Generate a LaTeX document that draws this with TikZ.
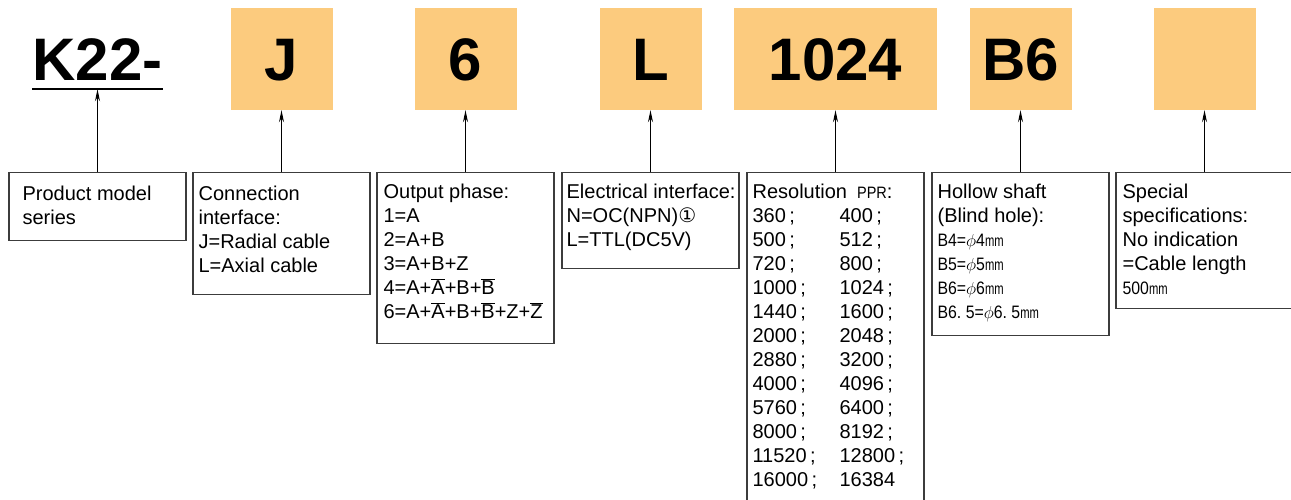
\documentclass[tikz,border=0pt]{standalone}
\usepackage{fontspec}
\setmainfont{Liberation Sans}
\newfontfamily\narrowfont{Liberation Sans}[FakeStretch=0.88]
\newfontfamily\mmfont{Liberation Sans}[FakeStretch=0.7]
\newfontfamily\symfont{DejaVu Sans}
\usetikzlibrary{arrows.meta,positioning}
\definecolor{codeorange}{RGB}{252,203,126}
\definecolor{boxgray}{RGB}{60,60,60}
\tikzset{>={Stealth[length=12pt,width=5pt]}}
\tikzset{
  codebox/.style={fill=codeorange,minimum width=102pt,minimum height=102pt,inner sep=0pt,
    text height=43pt,text depth=0pt,font=\fontsize{60}{60}\selectfont\bfseries},
  infobox/.style={draw=boxgray,line width=1.2pt,minimum width=177pt,anchor=north,inner sep=0pt},
  infotext/.style={anchor=north west,align=left,inner sep=0pt,font=\fontsize{20}{24}\selectfont},
  pointer/.style={->,line width=1pt}
}
\newcommand{\smallmm}{{\mmfont\fontsize{16}{24}\selectfont mm}}
\newcommand{\narrowtext}[1]{{\narrowfont\fontsize{16.5}{24}\selectfont #1}}
\newcommand{\shafttext}[1]{{\narrowfont\fontsize{18}{24}\selectfont #1}}
\newcommand{\ovl}[1]{$\overline{\mbox{#1}}$}
\newcommand{\pprrow}[2]{\makebox[87pt][l]{#1\,;}#2}

\begin{document}
\begin{tikzpicture}[x=1pt,y=-1pt]
  \useasboundingbox (0,0) rectangle (1291,499);

  % code line
  \node[anchor=base,inner xsep=0pt,inner ysep=9pt,text depth=0pt,
        font=\fontsize{60}{60}\selectfont\bfseries] (k22) at (97.5,80) {K22-};
  \draw[line width=2pt] (k22.south west) -- (k22.south east);
  \node[codebox] (cJ) at (281.5,59) {J};
  \node[codebox] (c6) at (465.5,59) {6};
  \node[codebox] (cL) at (650.5,59) {L};
  \node[codebox,minimum width=203pt] (cres) at (835.5,59) {1024};
  \node[codebox] (cB) at (1020.5,59) {B6};
  \node[codebox] (cspec) at (1204.5,59) {};

  % explanation boxes
  \node[infobox,minimum height=68pt] (prod) at (97.5,172) {};
  \node[infobox,minimum height=122pt] (conn) at (281.5,172) {};
  \node[infobox,minimum height=171pt] (outp) at (465.5,172) {};
  \node[infobox,minimum height=96pt] (elec) at (650.5,172) {};
  \node[infobox,minimum height=345pt] (reso) at (835.5,172) {};
  \node[infobox,minimum height=163pt] (hole) at (1020.5,172) {};
  \node[infobox,minimum height=136pt] (spec) at (1204.5,172) {};

  \node[infotext] (prodtxt) at ([shift={(14,11)}]prod.north west) {\strut Product model\\series};
  \node[infotext] (conntxt) at ([shift={(6,11)}]conn.north west)
    {\strut Connection\\interface:\\J=Radial cable\\L=Axial cable};
  \node[infotext] (outptxt) at ([shift={(7,9)}]outp.north west)
    {\strut Output phase:\\1=A\\2=A+B\\3=A+B+Z\\4=A+\ovl{A}+B+\ovl{B}\\6=A+\ovl{A}+B+\ovl{B}+Z+\ovl{Z}};
  \node[infotext] (electxt) at ([shift={(5,9)}]elec.north west)
    {\strut Electrical interface:\\N=OC(NPN){\symfont ①}\\L=TTL(DC5V)};
  \node[infotext] (resotxt) at ([shift={(6,9)}]reso.north west)
    {\strut Resolution\enspace\narrowtext{PPR}:\\
     \pprrow{360}{400\,;}\\ \pprrow{500}{512\,;}\\ \pprrow{720}{800\,;}\\
     \pprrow{1000}{1024\,;}\\ \pprrow{1440}{1600\,;}\\ \pprrow{2000}{2048\,;}\\
     \pprrow{2880}{3200\,;}\\ \pprrow{4000}{4096\,;}\\ \pprrow{5760}{6400\,;}\\
     \pprrow{8000}{8192\,;}\\ \pprrow{11520}{12800\,;}\\ \pprrow{16000}{16384}};
  \node[infotext] (holetxt) at ([shift={(6,9)}]hole.north west)
    {\strut Hollow shaft\\(Blind hole):\\\shafttext{B4=$\phi$4\smallmm}\\\shafttext{B5=$\phi$5\smallmm}\\
     \shafttext{B6=$\phi$6\smallmm}\\\shafttext{B6.\ 5=$\phi$6.\ 5\smallmm}};
  \node[infotext] (spectxt) at ([shift={(7,9)}]spec.north west)
    {\strut Special\\specifications:\\No indication\\=Cable length\\\shafttext{500\smallmm}};

  % pointers
  \draw[pointer] (prod.north) -- (k22.south);
  \draw[pointer] (conn.north) -- (conn.north |- cJ.south);
  \draw[pointer] (outp.north) -- (outp.north |- c6.south);
  \draw[pointer] (elec.north) -- (elec.north |- cL.south);
  \draw[pointer] (reso.north) -- (reso.north |- cres.south);
  \draw[pointer] (hole.north) -- (hole.north |- cB.south);
  \draw[pointer] (spec.north) -- (spec.north |- cspec.south);
\end{tikzpicture}
\end{document}
